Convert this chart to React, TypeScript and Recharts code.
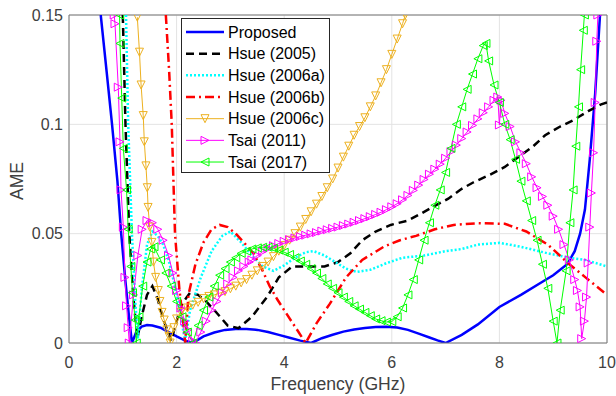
import { CartesianGrid, Label, Legend, Line, LineChart, ReferenceLine, XAxis, YAxis } from 'recharts';

// [frequency in GHz, AME]
const proposed = [
  [0.59, 0.15], [0.7, 0.124], [0.8, 0.1], [0.9, 0.074], [0.97, 0.05], [1.05, 0.028], [1.12, 0.011], [1.17, 0],
  [1.25, 0.005], [1.35, 0.0075], [1.45, 0.0082], [1.55, 0.008], [1.7, 0.007], [1.85, 0.005], [2.0, 0.003],
  [2.15, 0.0012], [2.3, 0], [2.5, 0.003], [2.7, 0.0048], [2.9, 0.006], [3.1, 0.0064], [3.3, 0.0064], [3.5, 0.006],
  [3.7, 0.005], [3.9, 0.0037], [4.1, 0.0024], [4.3, 0.0011], [4.5, 0], [4.7, 0.0022], [4.9, 0.0038], [5.1, 0.0052],
  [5.3, 0.0062], [5.5, 0.0069], [5.7, 0.0073], [5.9, 0.0074], [6.1, 0.0071], [6.3, 0.006], [6.5, 0.0043],
  [6.7, 0.0025], [6.85, 0.0012], [7.0, 0], [7.3, 0.0037], [7.6, 0.0085], [8.0, 0.0165], [8.4, 0.022], [8.8, 0.028],
  [9.0, 0.031], [9.26, 0.036], [9.4, 0.042], [9.5, 0.05], [9.59, 0.061], [9.68, 0.084], [9.78, 0.114], [9.87, 0.15],
];

const hsue2005 = [
  [1.0, 0.15], [1.05, 0.1], [1.12, 0.05], [1.2, 0.02], [1.27, 0.002], [1.35, 0.012], [1.45, 0.022], [1.55, 0.026],
  [1.65, 0.02], [1.75, 0.011], [1.9, 0.001], [2.0, 0.01], [2.1, 0.018], [2.25, 0.023], [2.4, 0.022], [2.55, 0.019],
  [2.72, 0.0145], [2.95, 0.008], [3.15, 0.0068], [3.4, 0.012], [3.68, 0.021], [3.9, 0.03], [4.15, 0.035],
  [4.45, 0.035], [4.75, 0.035], [5.0, 0.037], [5.23, 0.041], [5.45, 0.047], [5.7, 0.051], [5.98, 0.054],
  [6.3, 0.056], [6.53, 0.059], [6.78, 0.0625], [7.05, 0.066], [7.3, 0.0705], [7.52, 0.0735], [7.83, 0.077],
  [8.1, 0.0805], [8.35, 0.085], [8.63, 0.09], [8.85, 0.095], [9.13, 0.099], [9.38, 0.102], [9.65, 0.106],
  [9.88, 0.109], [10, 0.11],
];

const hsue2006a = [
  [1.06, 0.15], [1.1, 0.1], [1.17, 0.05], [1.23, 0.02], [1.28, 0.002], [1.35, 0.024], [1.45, 0.045], [1.55, 0.051],
  [1.65, 0.049], [1.75, 0.045], [1.85, 0.038], [1.95, 0.028], [2.05, 0.016], [2.12, 0.006], [2.16, 0.001],
  [2.25, 0.015], [2.45, 0.03], [2.65, 0.042], [2.85, 0.049], [3.0, 0.051], [3.2, 0.046], [3.4, 0.04], [3.6, 0.035],
  [3.8, 0.033], [4.0, 0.0355], [4.2, 0.039], [4.4, 0.0415], [4.55, 0.042], [4.75, 0.04], [4.95, 0.037],
  [5.15, 0.034], [5.35, 0.0325], [5.6, 0.0335], [5.9, 0.0365], [6.2, 0.039], [6.6, 0.04], [7.0, 0.042],
  [7.3, 0.043], [7.6, 0.045], [8.0, 0.0458], [8.4, 0.044], [8.9, 0.041], [9.3, 0.039], [9.6, 0.038], [10, 0.035],
];

const hsue2006b = [
  [1.8, 0.15], [1.86, 0.125], [1.91, 0.1], [1.97, 0.05], [2.05, 0.025], [2.12, 0.01], [2.16, 0], [2.22, 0.022],
  [2.35, 0.036], [2.5, 0.046], [2.65, 0.052], [2.8, 0.054], [2.95, 0.053], [3.1, 0.05], [3.25, 0.046],
  [3.43, 0.041], [3.6, 0.033], [3.73, 0.026], [3.87, 0.02], [4.0, 0.015], [4.2, 0.0075], [4.4, 0], [4.6, 0.009],
  [4.85, 0.018], [5.0, 0.024], [5.15, 0.03], [5.3, 0.034], [5.45, 0.038], [5.65, 0.041], [5.85, 0.044],
  [6.15, 0.047], [6.45, 0.049], [6.8, 0.052], [7.15, 0.054], [7.6, 0.0548], [8.1, 0.0545], [8.5, 0.051],
  [8.9, 0.045], [9.3, 0.036], [9.6, 0.03], [10, 0.022],
];

const hsue2006c = [
  [1.27, 0.149], [1.31, 0.133], [1.34, 0.118], [1.38, 0.104], [1.4, 0.092], [1.43, 0.081], [1.455, 0.071],
  [1.47, 0.062], [1.5, 0.053], [1.54, 0.046], [1.57, 0.037], [1.61, 0.03], [1.66, 0.024], [1.69, 0.019],
  [1.73, 0.014], [1.77, 0.0105], [1.82, 0.006], [1.86, 0.003], [1.88, 0], [1.95, 0.007], [2.0, 0.011],
  [2.08, 0.014], [2.2, 0.016], [2.3, 0.0173], [2.4, 0.0186], [2.5, 0.0203], [2.6, 0.0213], [2.7, 0.022],
  [2.8, 0.0228], [2.9, 0.0235], [3.0, 0.0248], [3.1, 0.026], [3.2, 0.0275], [3.3, 0.029], [3.4, 0.031],
  [3.5, 0.033], [3.6, 0.035], [3.7, 0.037], [3.8, 0.0395], [3.9, 0.042], [4.0, 0.0445], [4.1, 0.047], [4.2, 0.05],
  [4.3, 0.053], [4.4, 0.0565], [4.5, 0.06], [4.6, 0.0635], [4.7, 0.067], [4.8, 0.071], [4.9, 0.075], [5.0, 0.08],
  [5.1, 0.085], [5.2, 0.09], [5.3, 0.095], [5.4, 0.099], [5.5, 0.103], [5.6, 0.108], [5.7, 0.113], [5.8, 0.119],
  [5.9, 0.125], [6.0, 0.132], [6.1, 0.139], [6.2, 0.146], [6.25, 0.15],
];

const tsai2011 = [
  [0.84, 0.15], [0.855, 0.146], [0.916, 0.117], [0.948, 0.092], [0.967, 0.07], [1.01, 0.053], [1.04, 0.03],
  [1.07, 0.017], [1.1, 0.007], [1.12, 0], [1.2, 0.022], [1.28, 0.04], [1.36, 0.052], [1.45, 0.056], [1.55, 0.055],
  [1.65, 0.052], [1.75, 0.047], [1.85, 0.04], [1.93, 0.032], [2.0, 0.024], [2.08, 0.016], [2.15, 0.01],
  [2.21, 0.006], [2.3, 0.001], [2.35, 0], [2.45, 0.005], [2.55, 0.01], [2.65, 0.015], [2.75, 0.019],
  [2.85, 0.023], [2.95, 0.027], [3.05, 0.03], [3.15, 0.033], [3.25, 0.035], [3.35, 0.037], [3.4, 0.038],
  [3.5, 0.04], [3.6, 0.0418], [3.7, 0.0432], [3.8, 0.0445], [3.9, 0.0455], [4.0, 0.0465], [4.1, 0.0473],
  [4.2, 0.048], [4.3, 0.0487], [4.4, 0.0493], [4.5, 0.0499], [4.6, 0.0505], [4.7, 0.0512], [4.8, 0.0518],
  [4.9, 0.0524], [5.0, 0.053], [5.1, 0.0537], [5.2, 0.0544], [5.3, 0.0552], [5.4, 0.056], [5.5, 0.0569],
  [5.6, 0.0578], [5.7, 0.0588], [5.8, 0.0598], [5.9, 0.061], [6.0, 0.0623], [6.1, 0.0637], [6.2, 0.0655],
  [6.3, 0.0675], [6.4, 0.0698], [6.5, 0.0722], [6.6, 0.0748], [6.7, 0.0772], [6.8, 0.0795], [6.9, 0.0818],
  [7.0, 0.0845], [7.1, 0.0875], [7.2, 0.0905], [7.3, 0.0935], [7.4, 0.0965], [7.5, 0.0995], [7.6, 0.1025],
  [7.7, 0.1053], [7.8, 0.108], [7.9, 0.111], [7.97, 0.1125], [8.0, 0.0997], [8.03, 0.111], [8.1, 0.105],
  [8.2, 0.099], [8.3, 0.092], [8.4, 0.087], [8.5, 0.082], [8.6, 0.076], [8.7, 0.071], [8.8, 0.067], [8.9, 0.063],
  [9.0, 0.058], [9.1, 0.052], [9.2, 0.045], [9.3, 0.038], [9.4, 0.029], [9.45, 0.024], [9.5, 0.0165],
  [9.53, 0.002], [9.58, 0.01], [9.62, 0.021], [9.65, 0.0366], [9.68, 0.053], [9.71, 0.0686], [9.75, 0.087],
  [9.78, 0.11], [9.81, 0.138], [9.83, 0.15],
];

const tsai2017 = [
  [0.94, 0.15], [0.948, 0.137], [0.98, 0.112], [1.01, 0.089], [1.07, 0.07], [1.1, 0.052], [1.15, 0.035],
  [1.18, 0.023], [1.23, 0.0105], [1.25, 0], [1.3, 0.012], [1.37, 0.026], [1.45, 0.037], [1.52, 0.043],
  [1.58, 0.044], [1.7, 0.038], [1.8, 0.032], [1.9, 0.026], [2.0, 0.019], [2.1, 0.012], [2.2, 0.005], [2.3, 0],
  [2.4, 0.008], [2.5, 0.015], [2.6, 0.021], [2.7, 0.026], [2.8, 0.031], [2.9, 0.034], [3.0, 0.037], [3.1, 0.039],
  [3.2, 0.041], [3.3, 0.042], [3.4, 0.043], [3.5, 0.0435], [3.6, 0.0438], [3.7, 0.0438], [3.8, 0.0433],
  [3.9, 0.0425], [4.0, 0.0415], [4.1, 0.0405], [4.2, 0.039], [4.3, 0.0375], [4.4, 0.036], [4.5, 0.034],
  [4.6, 0.032], [4.7, 0.0295], [4.8, 0.027], [4.9, 0.025], [5.0, 0.023], [5.1, 0.021], [5.2, 0.019], [5.3, 0.017],
  [5.4, 0.0155], [5.5, 0.014], [5.6, 0.0125], [5.7, 0.011], [5.8, 0.0102], [5.9, 0.0096], [6.0, 0.0098],
  [6.1, 0.012], [6.2, 0.016], [6.3, 0.022], [6.4, 0.029], [6.5, 0.038], [6.6, 0.047], [6.7, 0.055], [6.8, 0.063],
  [6.9, 0.07], [7.0, 0.078], [7.1, 0.089], [7.2, 0.1], [7.3, 0.108], [7.4, 0.116], [7.5, 0.123], [7.6, 0.13],
  [7.7, 0.136], [7.75, 0.137], [7.8, 0.129], [7.9, 0.118], [8.0, 0.11], [8.1, 0.1], [8.2, 0.093], [8.3, 0.084],
  [8.4, 0.074], [8.5, 0.065], [8.6, 0.056], [8.7, 0.047], [8.8, 0.036], [8.9, 0.025], [9.0, 0.01], [9.07, 0],
  [9.13, 0.015], [9.24, 0.033], [9.31, 0.055], [9.37, 0.07], [9.42, 0.09], [9.47, 0.108], [9.51, 0.125],
  [9.56, 0.143], [9.58, 0.15],
];

const xTicks = [0, 2, 4, 6, 8, 10];
const yTicks = [0, 0.05, 0.1, 0.15];

const FONT = '"Liberation Sans", Arial, Helvetica, sans-serif';
const AXIS = '#777';
const TEXT = '#404040';

type Marker = 'down' | 'right' | 'left' | null;

interface Series {
  name: string;
  points: number[][];
  color: string;
  width: number;
  dash?: string;
  marker: Marker;
}

const series: Series[] = [
  { name: 'Proposed', points: proposed, color: '#0000ff', width: 2.5, marker: null },
  { name: 'Hsue (2005)', points: hsue2005, color: '#000000', width: 2.5, dash: '8 5', marker: null },
  { name: 'Hsue (2006a)', points: hsue2006a, color: '#00ffff', width: 2.5, dash: '2 2', marker: null },
  { name: 'Hsue (2006b)', points: hsue2006b, color: '#ff0000', width: 2.5, dash: '9 4 2 4', marker: null },
  { name: 'Hsue (2006c)', points: hsue2006c, color: '#edb120', width: 1, marker: 'down' },
  { name: 'Tsai (2011)', points: tsai2011, color: '#ff00ff', width: 1, marker: 'right' },
  { name: 'Tsai (2017)', points: tsai2017, color: '#00ff00', width: 1, marker: 'left' },
];

function Triangle({ cx, cy, dir, color }: { cx: number; cy: number; dir: Marker; color: string }) {
  const r = 4;
  let pts = '';
  if (dir === 'down') pts = `${cx - r},${cy - r} ${cx + r},${cy - r} ${cx},${cy + r}`;
  else if (dir === 'right') pts = `${cx - r},${cy - r} ${cx - r},${cy + r} ${cx + r},${cy}`;
  else pts = `${cx + r},${cy - r} ${cx + r},${cy + r} ${cx - r},${cy}`;
  return <polygon points={pts} fill="none" stroke={color} strokeWidth={1} />;
}

function LegendBox() {
  return (
    <svg width={149} height={155} style={{ display: 'block' }}>
      <rect x={0.5} y={0.5} width={148} height={154} fill="#fff" stroke="#262626" strokeWidth={1} />
      {series.map((s, i) => {
        const y = 14 + i * 21.67;
        return (
          <g key={s.name}>
            <line x1={5} x2={43} y1={y} y2={y} stroke={s.color} strokeWidth={s.width} strokeDasharray={s.dash} />
            {s.marker && <Triangle cx={24} cy={y} dir={s.marker} color={s.color} />}
            <text x={47} y={y} dy="0.36em" fontSize={16} fontFamily={FONT} fill="#000">
              {s.name}
            </text>
          </g>
        );
      })}
    </svg>
  );
}

export default function App() {
  return (
    <div style={{ position: 'absolute', left: 0, top: 0 }}>
      <LineChart width={616} height={396} margin={{ top: 15, right: 9, bottom: 0, left: 9 }}>
        <CartesianGrid stroke="#e3e3e3" strokeWidth={1} />
        <XAxis
          dataKey="x"
          type="number"
          domain={[0, 10]}
          ticks={xTicks}
          allowDataOverflow
          height={53}
          stroke={AXIS}
          tickLine={false}
          tickSize={0}
          tickMargin={14}
          tick={{ fill: TEXT, fontSize: 16, fontFamily: FONT }}
        >
          <Label
            content={({ viewBox }: any) => (
              <text
                x={viewBox.x + viewBox.width / 2}
                y={viewBox.y + 47}
                textAnchor="middle"
                fontSize={17.6}
                fontFamily={FONT}
                fill={TEXT}
              >
                Frequency (GHz)
              </text>
            )}
          />
        </XAxis>
        <YAxis
          type="number"
          domain={[0, 0.15]}
          ticks={yTicks}
          allowDataOverflow
          width={60}
          stroke={AXIS}
          tickLine={false}
          tickSize={0}
          tickMargin={6}
          tickFormatter={(v: number) => String(v)}
          tick={{ fill: TEXT, fontSize: 16, fontFamily: FONT }}
        >
          <Label
            content={({ viewBox }: any) => {
              const x = viewBox.x + 8;
              const y = viewBox.y + viewBox.height / 2 + 2;
              return (
                <text
                  x={x}
                  y={y}
                  transform={`rotate(-90 ${x} ${y})`}
                  textAnchor="middle"
                  dominantBaseline="central"
                  fontSize={17.6}
                  fontFamily={FONT}
                  fill={TEXT}
                >
                  AME
                </text>
              );
            }}
          />
        </YAxis>
        <ReferenceLine y={0.15} stroke={AXIS} />
        <ReferenceLine x={10} stroke={AXIS} />
        {series.map((s) => (
          <Line
            key={s.name}
            name={s.name}
            data={s.points.map(([x, y]) => ({ x, y }))}
            dataKey="y"
            type="linear"
            stroke={s.color}
            strokeWidth={s.width}
            strokeDasharray={s.dash}
            dot={
              s.marker
                ? (p: any) => <Triangle key={`${s.name}-${p.index}`} cx={p.cx} cy={p.cy} dir={s.marker} color={s.color} />
                : false
            }
            activeDot={false}
            isAnimationActive={false}
          />
        ))}
        <Legend
          layout="vertical"
          align="center"
          verticalAlign="middle"
          wrapperStyle={{ left: 181, top: 18, width: 149, height: 155 }}
          content={() => <LegendBox />}
        />
      </LineChart>
    </div>
  );
}
